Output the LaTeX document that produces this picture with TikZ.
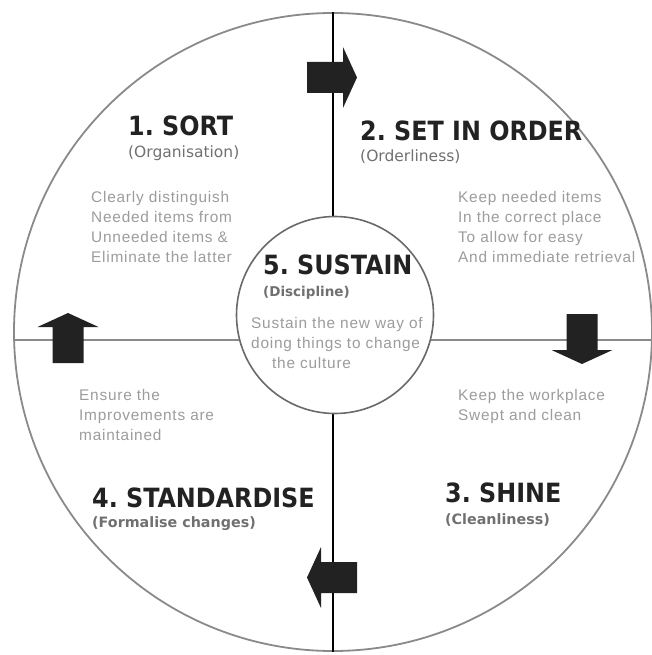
\documentclass[tikz,border=0pt]{standalone}
\usepackage{fontspec}
\setmainfont{Liberation Sans}
\newfontfamily\headfont{DejaVu Sans Condensed}
\newfontfamily\subfont{DejaVu Sans}
\newfontfamily\bodyfont{Liberation Sans}[LetterSpace=5]
\usepackage{xcolor}
\usetikzlibrary{positioning,calc}
\definecolor{headgray}{HTML}{222222}
\definecolor{subgray}{HTML}{707070}
\definecolor{bodygray}{HTML}{9C9C9C}
\definecolor{ringgray}{HTML}{8A8A8A}
\definecolor{hubgray}{HTML}{6A6A6A}
\definecolor{arrowfill}{HTML}{222222}
\frenchspacing

\tikzset{
  stagehead/.style={anchor=base west,inner sep=0pt,text=headgray,
    font=\headfont\bfseries\fontsize{26.5}{30}\selectfont},
  stagesub/.style={anchor=base west,inner sep=0pt,text=subgray,
    font=\subfont\fontsize{15.5}{18}\selectfont},
  stagesubbold/.style={anchor=base west,inner sep=0pt,text=subgray,
    font=\subfont\bfseries\fontsize{14.3}{18}\selectfont},
  % base of a multi-line node is its last line
  stagetext/.style={anchor=base west,inner sep=0pt,text=bodygray,align=left,
    font=\bodyfont\fontsize{15.4}{20}\selectfont},
}

\begin{document}
\begin{tikzpicture}[x=1pt,y=-1pt]
\useasboundingbox (0,0) rectangle (651,655);

% outer ring and the two dividers
\node[circle,draw=ringgray,line width=1.8pt,minimum size=638pt,inner sep=0pt]
      (outer) at (333,332) {};
\draw[black,line width=1.6pt] (outer.north) -- (outer.south);
\draw[ringgray,line width=1.8pt] ([yshift=-8pt]outer.west) -- ([yshift=-8pt]outer.east);

% centre disc
\node[circle,draw=hubgray,fill=white,line width=1.6pt,minimum size=197pt,inner sep=0pt]
      (hub) at (335,315) {};

% block arrows: tail x/y, direction u/v
\foreach \x/\y/\u/\v in {307/77.5/1/0, 582/314/0/1, 357/577.5/-1/0, 68/363/0/-1}{
  \fill[arrowfill]
    ($(\x,\y)+(-15.5*\v,15.5*\u)$) --
    ($(\x,\y)+(36*\u,36*\v)+(-15.5*\v,15.5*\u)$) --
    ($(\x,\y)+(36*\u,36*\v)+(-30.5*\v,30.5*\u)$) --
    ($(\x,\y)+(50*\u,50*\v)$) --
    ($(\x,\y)+(36*\u,36*\v)+(30.5*\v,-30.5*\u)$) --
    ($(\x,\y)+(36*\u,36*\v)+(15.5*\v,-15.5*\u)$) --
    ($(\x,\y)+(15.5*\v,-15.5*\u)$) -- cycle;
}

% 1. sort
\node[stagehead] (sort) at (128,136) {1. SORT};
\node[stagesub] (sortsub) at (128,158) {(Organisation)};
\node[stagetext] (sorttext) at (91,262)
  {Clearly distinguish\\Needed items from\\Unneeded items \&\\Eliminate the latter};

% 2. set in order
\node[stagehead] (order) at (360,141) {2. SET IN ORDER};
\node[stagesub] (ordersub) at (360,162) {(Orderliness)};
\node[stagetext] (ordertext) at (458,262)
  {Keep needed items\\In the correct place\\To allow for easy\\And immediate retrieval};

% 3. shine
\node[stagehead] (shine) at (445,502) {3. SHINE};
\node[stagesubbold] (shinesub) at (445,524) {(Cleanliness)};
\node[stagetext] (shinetext) at (458,420) {Keep the workplace\\Swept and clean};

% 4. standardise
\node[stagehead] (stand) at (92,507) {4. STANDARDISE};
\node[stagesubbold] (standsub) at (92,527) {(Formalise changes)};
\node[stagetext] (standtext) at (79,440) {Ensure the\\Improvements are\\maintained};

% 5. sustain
\node[stagehead] (sustain) at (263,274) {5. SUSTAIN};
\node[stagesubbold,font=\subfont\bfseries\fontsize{13.5}{16}\selectfont]
      (sustainsub) at (263,296) {(Discipline)};
\node[stagetext] (sustaintext) at (251,368)
  {Sustain the new way of\\doing things to change\\\hspace*{21pt}the culture};

\end{tikzpicture}
\end{document}
